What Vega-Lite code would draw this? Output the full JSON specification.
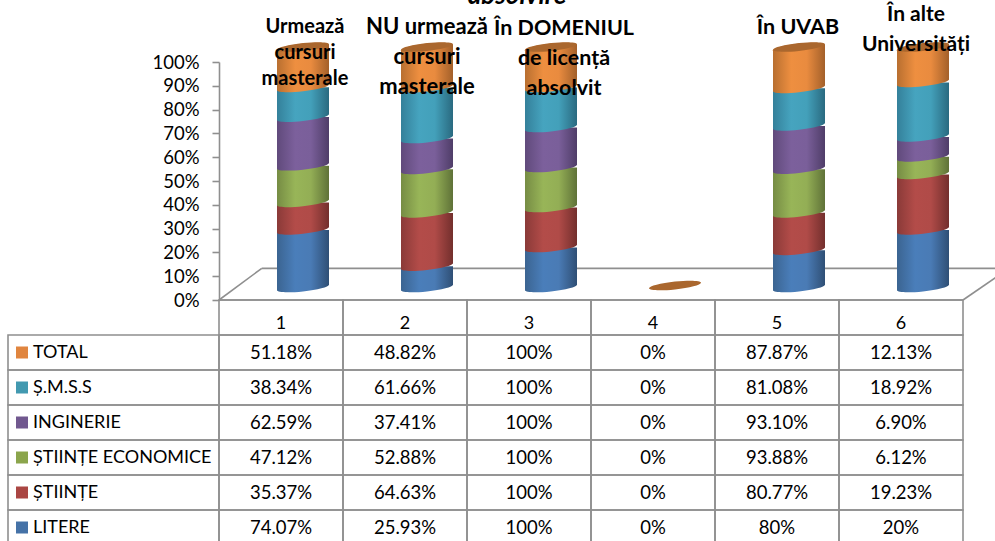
{"$schema":"https://vega.github.io/schema/vega-lite/v6.json","width":995,"height":541,"autosize":"none","padding":0,"background":"white","config":{"view":{"stroke":null},"text":{"font":"Lato"}},
"data":{"values":[
{"col":1,"series":"LITERE","value":74.07,"label":"74.07%"},{"col":2,"series":"LITERE","value":25.93,"label":"25.93%"},{"col":3,"series":"LITERE","value":100,"label":"100%"},{"col":4,"series":"LITERE","value":0,"label":"0%"},{"col":5,"series":"LITERE","value":80,"label":"80%"},{"col":6,"series":"LITERE","value":20,"label":"20%"},
{"col":1,"series":"ȘTIINȚE","value":35.37,"label":"35.37%"},{"col":2,"series":"ȘTIINȚE","value":64.63,"label":"64.63%"},{"col":3,"series":"ȘTIINȚE","value":100,"label":"100%"},{"col":4,"series":"ȘTIINȚE","value":0,"label":"0%"},{"col":5,"series":"ȘTIINȚE","value":80.77,"label":"80.77%"},{"col":6,"series":"ȘTIINȚE","value":19.23,"label":"19.23%"},
{"col":1,"series":"ȘTIINȚE ECONOMICE","value":47.12,"label":"47.12%"},{"col":2,"series":"ȘTIINȚE ECONOMICE","value":52.88,"label":"52.88%"},{"col":3,"series":"ȘTIINȚE ECONOMICE","value":100,"label":"100%"},{"col":4,"series":"ȘTIINȚE ECONOMICE","value":0,"label":"0%"},{"col":5,"series":"ȘTIINȚE ECONOMICE","value":93.88,"label":"93.88%"},{"col":6,"series":"ȘTIINȚE ECONOMICE","value":6.12,"label":"6.12%"},
{"col":1,"series":"INGINERIE","value":62.59,"label":"62.59%"},{"col":2,"series":"INGINERIE","value":37.41,"label":"37.41%"},{"col":3,"series":"INGINERIE","value":100,"label":"100%"},{"col":4,"series":"INGINERIE","value":0,"label":"0%"},{"col":5,"series":"INGINERIE","value":93.10,"label":"93.10%"},{"col":6,"series":"INGINERIE","value":6.90,"label":"6.90%"},
{"col":1,"series":"Ș.M.S.S","value":38.34,"label":"38.34%"},{"col":2,"series":"Ș.M.S.S","value":61.66,"label":"61.66%"},{"col":3,"series":"Ș.M.S.S","value":100,"label":"100%"},{"col":4,"series":"Ș.M.S.S","value":0,"label":"0%"},{"col":5,"series":"Ș.M.S.S","value":81.08,"label":"81.08%"},{"col":6,"series":"Ș.M.S.S","value":18.92,"label":"18.92%"},
{"col":1,"series":"TOTAL","value":51.18,"label":"51.18%"},{"col":2,"series":"TOTAL","value":48.82,"label":"48.82%"},{"col":3,"series":"TOTAL","value":100,"label":"100%"},{"col":4,"series":"TOTAL","value":0,"label":"0%"},{"col":5,"series":"TOTAL","value":87.87,"label":"87.87%"},{"col":6,"series":"TOTAL","value":12.13,"label":"12.13%"}
]},
"datasets":{"categories":[
{"col":1,"heading":"Urmează\ncursuri\nmasterale","total":1},
{"col":2,"heading":"NU urmează\ncursuri\nmasterale","total":1},
{"col":3,"heading":"În DOMENIUL\nde licență\nabsolvit","total":1},
{"col":4,"heading":"","total":0},
{"col":5,"heading":"În UVAB","total":1},
{"col":6,"heading":"În alte\nUniversități","total":1}]},
"transform":[{"stack":"value","groupby":["col"],"offset":"normalize","as":["y0","y1"]}],
"resolve":{"scale":{"x":"independent","y":"independent","color":"independent"},"axis":{"x":"independent","y":"independent"}},
"layer":[
{"data":{"values":[{"edge":"front"}]},"mark":{"type":"rule","color":"#8f8f8f","strokeWidth":1.6},"encoding":{"x":{"datum":0,"type":"quantitative","scale":{"domain":[0,6],"range":[219,963]},"axis":null},"x2":{"datum":6},"y":{"datum":0,"type":"quantitative","scale":{"domain":[0,1],"range":[300,62]},"axis":{"values":[0,0.1,0.2,0.3,0.4,0.5,0.6,0.7,0.8,0.9,1],"format":".0%","offset":-219,"title":null,"grid":false,"domainColor":"#8f8f8f","domainWidth":1.6,"tickColor":"#8f8f8f","tickWidth":1.6,"tickSize":7,"labelPadding":13,"labelFont":"Lato","labelFontSize":18.5,"labelColor":"#000000"}}}},
{"data":{"values":[{"edge":"left"}]},"mark":{"type":"rule","color":"#8f8f8f","strokeWidth":1.6},"encoding":{"x":{"datum":0,"type":"quantitative","scale":{"domain":[0,6],"range":[219,963]},"axis":null},"x2":{"datum":0.345},"y":{"datum":0,"type":"quantitative","scale":{"domain":[0,1],"range":[300,62]},"axis":null},"y2":{"datum":0.133}}},
{"data":{"values":[{"edge":"back"}]},"mark":{"type":"rule","color":"#8f8f8f","strokeWidth":1.6},"encoding":{"x":{"datum":0.345,"type":"quantitative","scale":{"domain":[0,6],"range":[219,963]},"axis":null},"x2":{"datum":6.27},"y":{"datum":0.133,"type":"quantitative","scale":{"domain":[0,1],"range":[300,62]},"axis":null}}},
{"data":{"values":[{"edge":"right"}]},"mark":{"type":"rule","color":"#8f8f8f","strokeWidth":1.6},"encoding":{"x":{"datum":6,"type":"quantitative","scale":{"domain":[0,6],"range":[219,963]},"axis":null},"x2":{"datum":6.27},"y":{"datum":0,"type":"quantitative","scale":{"domain":[0,1],"range":[300,62]},"axis":null},"y2":{"datum":0.097}}},

{"transform":[{"filter":{"and":[{"field":"series","equal":"LITERE"},{"field":"value","gt":0}]}}],"mark":{"type":"bar","width":52,"y2Offset":-3,"fill":{"gradient":"linear","x1":0,"x2":1,"y1":0,"y2":0,"stops":[{"offset":0,"color":"#3b6491"},{"offset":0.35,"color":"#4a7eba"},{"offset":0.65,"color":"#4a7bb5"},{"offset":1,"color":"#2f4f75"}]}},"encoding":{"x":{"field":"col","type":"ordinal","scale":{"type":"band","domain":[1,2,3,4,5,6],"range":[241,985],"padding":0},"axis":null},"y":{"field":"y1","type":"quantitative","scale":{"domain":[0,1],"range":[287.5,47.5]},"axis":null},"y2":{"field":"y0"}}},
{"transform":[{"filter":{"and":[{"field":"series","equal":"LITERE"},{"field":"value","gt":0}]}}],"mark":{"type":"point","filled":true,"opacity":1,"strokeWidth":0,"size":2704,"shape":"M-1,-0.2 L1,-0.2 L1,-0.11 C1,-0.027 0.5523,0.089 0,0.15 C-0.5523,0.211 -1,0.193 -1,0.11 Z","fill":{"gradient":"linear","x1":0,"x2":1,"y1":0,"y2":0,"stops":[{"offset":0,"color":"#3b6491"},{"offset":0.35,"color":"#4a7eba"},{"offset":0.65,"color":"#4a7bb5"},{"offset":1,"color":"#2f4f75"}]}},"encoding":{"x":{"field":"col","type":"ordinal","scale":{"type":"band","domain":[1,2,3,4,5,6],"range":[241,985],"padding":0},"axis":null},"y":{"field":"y0","type":"quantitative","scale":{"domain":[0,1],"range":[287.5,47.5]},"axis":null}}},

{"transform":[{"filter":{"and":[{"field":"series","equal":"ȘTIINȚE"},{"field":"value","gt":0}]}}],"mark":{"type":"bar","width":52,"y2Offset":-3,"fill":{"gradient":"linear","x1":0,"x2":1,"y1":0,"y2":0,"stops":[{"offset":0,"color":"#8a3a38"},{"offset":0.35,"color":"#b34c49"},{"offset":0.65,"color":"#b04b48"},{"offset":1,"color":"#732f2d"}]}},"encoding":{"x":{"field":"col","type":"ordinal","scale":{"type":"band","domain":[1,2,3,4,5,6],"range":[241,985],"padding":0},"axis":null},"y":{"field":"y1","type":"quantitative","scale":{"domain":[0,1],"range":[287.5,47.5]},"axis":null},"y2":{"field":"y0"}}},
{"transform":[{"filter":{"and":[{"field":"series","equal":"ȘTIINȚE"},{"field":"value","gt":0}]}}],"mark":{"type":"point","filled":true,"opacity":1,"strokeWidth":0,"size":2704,"shape":"M-1,-0.2 L1,-0.2 L1,-0.11 C1,-0.027 0.5523,0.089 0,0.15 C-0.5523,0.211 -1,0.193 -1,0.11 Z","fill":{"gradient":"linear","x1":0,"x2":1,"y1":0,"y2":0,"stops":[{"offset":0,"color":"#8a3a38"},{"offset":0.35,"color":"#b34c49"},{"offset":0.65,"color":"#b04b48"},{"offset":1,"color":"#732f2d"}]}},"encoding":{"x":{"field":"col","type":"ordinal","scale":{"type":"band","domain":[1,2,3,4,5,6],"range":[241,985],"padding":0},"axis":null},"y":{"field":"y0","type":"quantitative","scale":{"domain":[0,1],"range":[287.5,47.5]},"axis":null}}},

{"transform":[{"filter":{"and":[{"field":"series","equal":"ȘTIINȚE ECONOMICE"},{"field":"value","gt":0}]}}],"mark":{"type":"bar","width":52,"y2Offset":-3,"fill":{"gradient":"linear","x1":0,"x2":1,"y1":0,"y2":0,"stops":[{"offset":0,"color":"#768c44"},{"offset":0.35,"color":"#98b558"},{"offset":0.65,"color":"#93ae55"},{"offset":1,"color":"#5f7238"}]}},"encoding":{"x":{"field":"col","type":"ordinal","scale":{"type":"band","domain":[1,2,3,4,5,6],"range":[241,985],"padding":0},"axis":null},"y":{"field":"y1","type":"quantitative","scale":{"domain":[0,1],"range":[287.5,47.5]},"axis":null},"y2":{"field":"y0"}}},
{"transform":[{"filter":{"and":[{"field":"series","equal":"ȘTIINȚE ECONOMICE"},{"field":"value","gt":0}]}}],"mark":{"type":"point","filled":true,"opacity":1,"strokeWidth":0,"size":2704,"shape":"M-1,-0.2 L1,-0.2 L1,-0.11 C1,-0.027 0.5523,0.089 0,0.15 C-0.5523,0.211 -1,0.193 -1,0.11 Z","fill":{"gradient":"linear","x1":0,"x2":1,"y1":0,"y2":0,"stops":[{"offset":0,"color":"#768c44"},{"offset":0.35,"color":"#98b558"},{"offset":0.65,"color":"#93ae55"},{"offset":1,"color":"#5f7238"}]}},"encoding":{"x":{"field":"col","type":"ordinal","scale":{"type":"band","domain":[1,2,3,4,5,6],"range":[241,985],"padding":0},"axis":null},"y":{"field":"y0","type":"quantitative","scale":{"domain":[0,1],"range":[287.5,47.5]},"axis":null}}},

{"transform":[{"filter":{"and":[{"field":"series","equal":"INGINERIE"},{"field":"value","gt":0}]}}],"mark":{"type":"bar","width":52,"y2Offset":-3,"fill":{"gradient":"linear","x1":0,"x2":1,"y1":0,"y2":0,"stops":[{"offset":0,"color":"#604a7b"},{"offset":0.35,"color":"#7c609c"},{"offset":0.65,"color":"#7a5f9a"},{"offset":1,"color":"#4f3d68"}]}},"encoding":{"x":{"field":"col","type":"ordinal","scale":{"type":"band","domain":[1,2,3,4,5,6],"range":[241,985],"padding":0},"axis":null},"y":{"field":"y1","type":"quantitative","scale":{"domain":[0,1],"range":[287.5,47.5]},"axis":null},"y2":{"field":"y0"}}},
{"transform":[{"filter":{"and":[{"field":"series","equal":"INGINERIE"},{"field":"value","gt":0}]}}],"mark":{"type":"point","filled":true,"opacity":1,"strokeWidth":0,"size":2704,"shape":"M-1,-0.2 L1,-0.2 L1,-0.11 C1,-0.027 0.5523,0.089 0,0.15 C-0.5523,0.211 -1,0.193 -1,0.11 Z","fill":{"gradient":"linear","x1":0,"x2":1,"y1":0,"y2":0,"stops":[{"offset":0,"color":"#604a7b"},{"offset":0.35,"color":"#7c609c"},{"offset":0.65,"color":"#7a5f9a"},{"offset":1,"color":"#4f3d68"}]}},"encoding":{"x":{"field":"col","type":"ordinal","scale":{"type":"band","domain":[1,2,3,4,5,6],"range":[241,985],"padding":0},"axis":null},"y":{"field":"y0","type":"quantitative","scale":{"domain":[0,1],"range":[287.5,47.5]},"axis":null}}},

{"transform":[{"filter":{"and":[{"field":"series","equal":"Ș.M.S.S"},{"field":"value","gt":0}]}}],"mark":{"type":"bar","width":52,"y2Offset":-3,"fill":{"gradient":"linear","x1":0,"x2":1,"y1":0,"y2":0,"stops":[{"offset":0,"color":"#34809a"},{"offset":0.35,"color":"#46a4bf"},{"offset":0.65,"color":"#43a0ba"},{"offset":1,"color":"#2a6a80"}]}},"encoding":{"x":{"field":"col","type":"ordinal","scale":{"type":"band","domain":[1,2,3,4,5,6],"range":[241,985],"padding":0},"axis":null},"y":{"field":"y1","type":"quantitative","scale":{"domain":[0,1],"range":[287.5,47.5]},"axis":null},"y2":{"field":"y0"}}},
{"transform":[{"filter":{"and":[{"field":"series","equal":"Ș.M.S.S"},{"field":"value","gt":0}]}}],"mark":{"type":"point","filled":true,"opacity":1,"strokeWidth":0,"size":2704,"shape":"M-1,-0.2 L1,-0.2 L1,-0.11 C1,-0.027 0.5523,0.089 0,0.15 C-0.5523,0.211 -1,0.193 -1,0.11 Z","fill":{"gradient":"linear","x1":0,"x2":1,"y1":0,"y2":0,"stops":[{"offset":0,"color":"#34809a"},{"offset":0.35,"color":"#46a4bf"},{"offset":0.65,"color":"#43a0ba"},{"offset":1,"color":"#2a6a80"}]}},"encoding":{"x":{"field":"col","type":"ordinal","scale":{"type":"band","domain":[1,2,3,4,5,6],"range":[241,985],"padding":0},"axis":null},"y":{"field":"y0","type":"quantitative","scale":{"domain":[0,1],"range":[287.5,47.5]},"axis":null}}},

{"transform":[{"filter":{"and":[{"field":"series","equal":"TOTAL"},{"field":"value","gt":0}]}}],"mark":{"type":"bar","width":52,"yOffset":3,"y2Offset":-3,"fill":{"gradient":"linear","x1":0,"x2":1,"y1":0,"y2":0,"stops":[{"offset":0,"color":"#b86f30"},{"offset":0.35,"color":"#ee8f40"},{"offset":0.65,"color":"#e98b3f"},{"offset":1,"color":"#a3602a"}]}},"encoding":{"x":{"field":"col","type":"ordinal","scale":{"type":"band","domain":[1,2,3,4,5,6],"range":[241,985],"padding":0},"axis":null},"y":{"field":"y1","type":"quantitative","scale":{"domain":[0,1],"range":[287.5,47.5]},"axis":null},"y2":{"field":"y0"}}},
{"transform":[{"filter":{"and":[{"field":"series","equal":"TOTAL"},{"field":"value","gt":0}]}}],"mark":{"type":"point","filled":true,"opacity":1,"strokeWidth":0,"size":2704,"shape":"M-1,-0.2 L1,-0.2 L1,-0.11 C1,-0.027 0.5523,0.089 0,0.15 C-0.5523,0.211 -1,0.193 -1,0.11 Z","fill":{"gradient":"linear","x1":0,"x2":1,"y1":0,"y2":0,"stops":[{"offset":0,"color":"#b86f30"},{"offset":0.35,"color":"#ee8f40"},{"offset":0.65,"color":"#e98b3f"},{"offset":1,"color":"#a3602a"}]}},"encoding":{"x":{"field":"col","type":"ordinal","scale":{"type":"band","domain":[1,2,3,4,5,6],"range":[241,985],"padding":0},"axis":null},"y":{"field":"y0","type":"quantitative","scale":{"domain":[0,1],"range":[287.5,47.5]},"axis":null}}},
{"transform":[{"filter":{"and":[{"field":"series","equal":"TOTAL"},{"field":"value","gt":0}]}}],"mark":{"type":"point","filled":true,"opacity":1,"strokeWidth":0,"size":2704,"shape":"M-1,0.2 L1,0.2 L1,-0.11 C1,-0.193 0.5523,-0.211 0,-0.15 C-0.5523,-0.089 -1,0.027 -1,0.11 Z","fill":{"gradient":"linear","x1":0,"x2":1,"y1":0,"y2":0,"stops":[{"offset":0,"color":"#b86f30"},{"offset":0.35,"color":"#ee8f40"},{"offset":0.65,"color":"#e98b3f"},{"offset":1,"color":"#a3602a"}]}},"encoding":{"x":{"field":"col","type":"ordinal","scale":{"type":"band","domain":[1,2,3,4,5,6],"range":[241,985],"padding":0},"axis":null},"y":{"field":"y1","type":"quantitative","scale":{"domain":[0,1],"range":[287.5,47.5]},"axis":null}}},
{"data":{"name":"categories"},"mark":{"type":"point","filled":true,"opacity":1,"strokeWidth":0,"size":2704,"color":"#aa672e","shape":"M-1,0.11 C-1,0.193 -0.5523,0.211 0,0.15 C0.5523,0.089 1,-0.027 1,-0.11 C1,-0.193 0.5523,-0.211 0,-0.15 C-0.5523,-0.089 -1,0.027 -1,0.11 Z"},"encoding":{"x":{"field":"col","type":"ordinal","scale":{"type":"band","domain":[1,2,3,4,5,6],"range":[241,985],"padding":0},"axis":null},"y":{"field":"total","type":"quantitative","scale":{"domain":[0,1],"range":[285.5,47]},"axis":null}}},

{"data":{"name":"categories"},"mark":{"type":"rect","filled":false,"color":"#8f8f8f","strokeWidth":1.6,"opacity":1},"encoding":{"x":{"field":"col","type":"ordinal","scale":{"type":"band","domain":[1,2,3,4,5,6],"range":[219,963],"padding":0},"axis":null},"y":{"datum":"header","type":"nominal","scale":{"type":"band","domain":["header"],"range":[300,335],"padding":0},"axis":null}}},
{"data":{"name":"categories"},"mark":{"type":"text","font":"Lato","fontSize":18,"color":"#000000","baseline":"middle"},"encoding":{"x":{"field":"col","type":"ordinal","scale":{"type":"band","domain":[1,2,3,4,5,6],"range":[219,963],"padding":0},"axis":null},"y":{"datum":"header","type":"nominal","scale":{"type":"band","domain":["header"],"range":[313,335],"padding":0},"axis":null},"text":{"field":"col","type":"nominal"}}},
{"mark":{"type":"rect","filled":false,"color":"#8f8f8f","strokeWidth":1.6,"opacity":1},"encoding":{"x":{"field":"col","type":"ordinal","scale":{"type":"band","domain":[1,2,3,4,5,6],"range":[219,963],"padding":0},"axis":null},"y":{"field":"series","type":"nominal","scale":{"type":"band","domain":["TOTAL","Ș.M.S.S","INGINERIE","ȘTIINȚE ECONOMICE","ȘTIINȚE","LITERE"],"range":[335,545],"padding":0},"axis":null}}},
{"mark":{"type":"text","font":"Lato","fontSize":18.5,"color":"#000000","baseline":"middle"},"encoding":{"x":{"field":"col","type":"ordinal","scale":{"type":"band","domain":[1,2,3,4,5,6],"range":[219,963],"padding":0},"axis":null},"y":{"field":"series","type":"nominal","scale":{"type":"band","domain":["TOTAL","Ș.M.S.S","INGINERIE","ȘTIINȚE ECONOMICE","ȘTIINȚE","LITERE"],"range":[335,545],"padding":0},"axis":null},"text":{"field":"label","type":"nominal"}}},
{"transform":[{"filter":{"field":"col","equal":1}}],"mark":{"type":"rect","filled":false,"color":"#8f8f8f","strokeWidth":1.6,"opacity":1},"encoding":{"x":{"datum":"legend","type":"nominal","scale":{"type":"band","domain":["legend"],"range":[8,219],"padding":0},"axis":null},"y":{"field":"series","type":"nominal","scale":{"type":"band","domain":["TOTAL","Ș.M.S.S","INGINERIE","ȘTIINȚE ECONOMICE","ȘTIINȚE","LITERE"],"range":[335,545],"padding":0},"axis":null}}},
{"transform":[{"filter":{"field":"col","equal":1}}],"mark":{"type":"point","shape":"square","filled":true,"opacity":1,"strokeWidth":0,"size":144},"encoding":{"x":{"datum":0,"type":"quantitative","scale":{"domain":[0,1],"range":[22,219]},"axis":null},"y":{"field":"series","type":"nominal","scale":{"type":"band","domain":["TOTAL","Ș.M.S.S","INGINERIE","ȘTIINȚE ECONOMICE","ȘTIINȚE","LITERE"],"range":[335,545],"padding":0},"axis":null},"color":{"field":"series","type":"nominal","legend":null,"scale":{"domain":["TOTAL","Ș.M.S.S","INGINERIE","ȘTIINȚE ECONOMICE","ȘTIINȚE","LITERE"],"range":["#e0853f","#4299b0","#71588f","#8ba54c","#aa4643","#4572a7"]}}}},
{"transform":[{"filter":{"field":"col","equal":1}}],"mark":{"type":"text","font":"Lato","fontSize":18,"color":"#000000","baseline":"middle","align":"left"},"encoding":{"x":{"datum":0,"type":"quantitative","scale":{"domain":[0,1],"range":[33,219]},"axis":null},"y":{"field":"series","type":"nominal","scale":{"type":"band","domain":["TOTAL","Ș.M.S.S","INGINERIE","ȘTIINȚE ECONOMICE","ȘTIINȚE","LITERE"],"range":[335,545],"padding":0},"axis":null},"text":{"field":"series","type":"nominal"}}},

{"data":{"name":"categories"},"transform":[{"filter":{"field":"col","equal":1}}],"mark":{"type":"text","font":"Lato","fontWeight":"bold","fontSize":20,"color":"#000000","baseline":"top","lineBreak":"\n","lineHeight":26,"dx":2,"dy":-29},"encoding":{"x":{"field":"col","type":"ordinal","scale":{"type":"band","domain":[1,2,3,4,5,6],"range":[241,985],"padding":0},"axis":null},"y":{"field":"total","type":"quantitative","scale":{"domain":[0,1],"range":[286,46]},"axis":null},"text":{"field":"heading","type":"nominal"}}},
{"data":{"name":"categories"},"transform":[{"filter":{"field":"col","equal":2}}],"mark":{"type":"text","font":"Lato","fontWeight":"bold","fontSize":22,"color":"#000000","baseline":"top","lineBreak":"\n","lineHeight":30,"dx":0,"dy":-29},"encoding":{"x":{"field":"col","type":"ordinal","scale":{"type":"band","domain":[1,2,3,4,5,6],"range":[241,985],"padding":0},"axis":null},"y":{"field":"total","type":"quantitative","scale":{"domain":[0,1],"range":[286,46]},"axis":null},"text":{"field":"heading","type":"nominal"}}},
{"data":{"name":"categories"},"transform":[{"filter":{"field":"col","equal":3}}],"mark":{"type":"text","font":"Lato","fontWeight":"bold","fontSize":21.5,"color":"#000000","baseline":"top","lineBreak":"\n","lineHeight":30,"dx":13,"dy":-28},"encoding":{"x":{"field":"col","type":"ordinal","scale":{"type":"band","domain":[1,2,3,4,5,6],"range":[241,985],"padding":0},"axis":null},"y":{"field":"total","type":"quantitative","scale":{"domain":[0,1],"range":[286,46]},"axis":null},"text":{"field":"heading","type":"nominal"}}},
{"data":{"name":"categories"},"transform":[{"filter":{"field":"col","equal":5}}],"mark":{"type":"text","font":"Lato","fontWeight":"bold","fontSize":21.5,"color":"#000000","baseline":"top","lineBreak":"\n","lineHeight":30,"dx":-1,"dy":-29},"encoding":{"x":{"field":"col","type":"ordinal","scale":{"type":"band","domain":[1,2,3,4,5,6],"range":[241,985],"padding":0},"axis":null},"y":{"field":"total","type":"quantitative","scale":{"domain":[0,1],"range":[286,46]},"axis":null},"text":{"field":"heading","type":"nominal"}}},
{"data":{"name":"categories"},"transform":[{"filter":{"field":"col","equal":6}}],"mark":{"type":"text","font":"Lato","fontWeight":"bold","fontSize":21,"color":"#000000","baseline":"top","lineBreak":"\n","lineHeight":30,"dx":-7,"dy":-42},"encoding":{"x":{"field":"col","type":"ordinal","scale":{"type":"band","domain":[1,2,3,4,5,6],"range":[241,985],"padding":0},"axis":null},"y":{"field":"total","type":"quantitative","scale":{"domain":[0,1],"range":[286,46]},"axis":null},"text":{"field":"heading","type":"nominal"}}},
{"data":{"values":[{"col":3,"total":1,"heading":"absolvire"}]},"mark":{"type":"text","font":"Lato","fontWeight":"bold","fontStyle":"italic","fontSize":26,"color":"#000000","baseline":"top","dx":-34,"dy":-63},"encoding":{"x":{"field":"col","type":"ordinal","scale":{"type":"band","domain":[1,2,3,4,5,6],"range":[241,985],"padding":0},"axis":null},"y":{"field":"total","type":"quantitative","scale":{"domain":[0,1],"range":[286,46]},"axis":null},"text":{"field":"heading","type":"nominal"}}}
]}
